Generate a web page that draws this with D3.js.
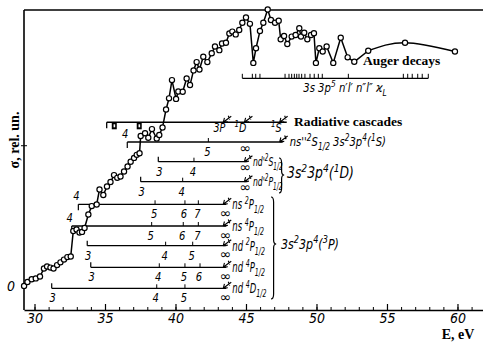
<!DOCTYPE html>
<html><head><meta charset="utf-8">
<script src="https://cdn.jsdelivr.net/npm/d3@7"></script>
<style>
body{margin:0;background:#fff}
svg{display:block}
text{fill:#000}
.it{font-family:"Liberation Sans Narrow","DejaVu Sans Condensed","Liberation Sans",sans-serif;font-style:italic}
.bf{font-family:"Liberation Serif","DejaVu Serif",serif;font-weight:bold}
.inf{font-family:"DejaVu Sans",sans-serif}
</style></head><body>
<svg id="c" width="483" height="346"></svg>
<script>
// ---- data ----
const energy = [29.26,29.50,29.80,30.09,30.39,30.67,30.89,31.13,31.35,31.60,
31.84,32.09,32.33,32.57,32.75,32.98,33.19,33.37,33.55,33.82,
34.06,34.41,34.61,34.88,35.14,35.39,35.64,35.87,36.10,36.35,
36.60,36.82,37.06,37.25,37.45,37.53,37.84,38.07,38.33,38.67,
38.85,39.08,39.33,39.54,39.75,40.04,40.20,40.51,40.79,41.03,
41.28,41.50,41.70,41.97,42.26,42.57,42.80,43.11,43.30,43.58,
43.82,44.03,44.27,44.52,44.74,45.00,45.28,45.52,45.71,45.99,
46.23,46.54,46.77,47.06,47.32,47.46,47.70,47.93,48.24,48.52,
48.78,48.90,49.13,49.35,49.61,49.82,49.96,50.20,50.44,50.72,
51.19,51.72,52.21,52.68,53.67,56.28,59.82];
const sigma = [0.4,1.8,2.8,3.1,3.8,6.7,7.4,7.0,6.7,7.9,
8.9,9.9,10.8,11.0,20.2,20.8,19.7,19.9,21.3,26.2,
29.2,29.8,35.2,33.2,36.3,37.9,40.4,39.4,39.9,41.7,
43.5,45.2,46.6,47.7,48.3,54.5,55.5,53.9,57.0,53.6,
54.9,57.6,64.1,68.1,74.7,67.9,70.6,70.5,75.3,72.9,
78.2,81.2,78.5,83.1,81.2,84.4,86.8,85.5,87.9,88.2,
91.5,92.2,91.2,92.8,95.4,97.3,95.0,80.9,86.2,92.4,
95.4,100.2,96.4,95.4,96.1,89.4,90.6,87.7,90.4,91.0,
93.4,90.4,91.8,89.4,91.0,91.6,80.9,86.2,85.0,86.8,
80.9,90.0,82.9,81.3,85.3,88.2,85.0];
const smoothTailFrom = 94; // index where the curve becomes a smooth arc

const xTickValues = [30,35,40,45,50,55,60];
const xMinorTicks = d3.range(30,62,1);
const xTitle = "E, eV";
const yTitle = "σ, rel. un.";
const yZeroLabel = "0";

const augerTitle = "Auger decays";
const augerLevels = [44.74,45.45,45.69,45.99,47.77,48.05,48.24,48.43,48.60,48.76,48.95,49.18,49.54,49.84,50.13,50.41,52.26,56.16,56.47,56.79,57.18,57.50,57.93];

const cascadeTitle = "Radiative cascades";
const cascadeStart = 35.12, cascadeEnd = 47.89;
const cascadeMarks = [35.48, 37.25];
const limitNames = [["3","P"],["1","D"],["1","S"]];
const limitEnergy = [43.6, 45.1, 47.6];

const seriesPrefix = ["ns''","nd'","nd'","ns ","ns ","nd ","nd ","nd "];
const seriesMult   = ["2","2","2","2","4","2","4","4"];
const seriesTerm   = ["S","S","P","P","P","P","P","D"];
const seriesStartN = [4,3,3,4,4,3,3,3];
const seriesStartE = [36.58,38.78,37.53,33.11,32.64,33.74,33.99,31.22];
const seriesTickN  = [[5],[4],[4],[5,6,7],[5,6,7],[4,5],[4,5,6],[4,5]];
const seriesTickE  = [[42.33],[41.31],[40.51],[38.55,40.67,41.62],[38.31,40.55,41.62],[39.30,41.22],[38.85,40.67,41.74],[38.67,40.67]];
const seriesLimit  = [2,1,1,0,0,0,0,0]; // index into limitEnergy
const seriesInfE   = [44.95,44.95,44.95,43.55,43.55,43.55,43.55,43.55];
const parentCore = [["1","S"],["1","D"],["3","P"]];

// ---- drawing ----
const svg = d3.select("#c");
const x = d3.scaleLinear().domain([29.255, 61.81]).range([24, 483]);
const y = d3.scaleLinear().domain([0, 100]).range([287, 10]);
const axisY = 310;

function rich(g, px, py, segs, cls, size, anchor, sx){
  const holder = g.append("g").attr("transform",`translate(${px},${py}) scale(${sx||1},1)`);
  const t = holder.append("text").attr("x",0).attr("y",0).attr("class",cls)
    .style("font-size",size+"px").attr("text-anchor",anchor||"start");
  let cur = 0;
  segs.forEach(([s,type])=>{
    const target = type==="sup" ? -size*0.4 : type==="sub" ? size*0.3 : 0;
    const ts = t.append("tspan").text(s).attr("dy", target-cur);
    if(type!=="n") ts.style("font-size",(size*0.74)+"px");
    cur = target;
  });
  return t;
}
function arrow(g, ax, ay){
  g.append("path")
   .attr("d",`M${ax},${ay} L${ax+8},${ay-6} M${ax},${ay} L${ax+1.2},${ay-4.5} M${ax},${ay} L${ax+4.6},${ay-0.6} M${ax+5},${ay-6.5} L${ax+6.5},${ay-2.8}`)
   .attr("fill","none").attr("stroke","#000").attr("stroke-width",1.1);
}
function brace(g, bx, y0, y1, ym){
  const w = 2.6;
  g.append("path")
   .attr("d",`M${bx},${y0} Q${bx+w},${y0} ${bx+w},${y0+5} L${bx+w},${ym-4} Q${bx+w},${ym} ${bx+2*w},${ym} Q${bx+w},${ym} ${bx+w},${ym+4} L${bx+w},${y1-5} Q${bx+w},${y1} ${bx},${y1}`)
   .attr("fill","none").attr("stroke","#000").attr("stroke-width",1.2);
}

// frame
svg.append("line").attr("x1",24).attr("x2",483).attr("y1",10).attr("y2",10).attr("stroke","#000").attr("stroke-width",1.4);
svg.append("line").attr("x1",24).attr("x2",24).attr("y1",10).attr("y2",axisY).attr("stroke","#000").attr("stroke-width",1.6);
svg.append("line").attr("x1",21).attr("x2",27).attr("y1",y(51)).attr("y2",y(51)).attr("stroke","#000").attr("stroke-width",1);

// x axis
const gMinor = svg.append("g").attr("transform",`translate(0,${axisY})`)
  .call(d3.axisBottom(x).tickValues(xMinorTicks).tickSizeInner(-3).tickSizeOuter(0).tickFormat(""));
gMinor.select(".domain").attr("stroke-width",1.6);
gMinor.selectAll(".tick line").attr("stroke-width",1);
const gMajor = svg.append("g").attr("transform",`translate(0,${axisY})`)
  .call(d3.axisBottom(x).tickValues(xTickValues).tickSizeInner(-6).tickSizeOuter(0).tickPadding(3).tickFormat(d3.format("d")));
gMajor.select(".domain").remove();
gMajor.selectAll(".tick line").attr("stroke-width",1.2);
gMajor.selectAll(".tick text").attr("class","it").style("font-size","14px").attr("fill","#000");

svg.append("text").attr("class","bf").attr("x",458).attr("y",339).attr("text-anchor","middle").style("font-size","14px").text(xTitle);
svg.append("text").attr("class","bf").attr("transform","translate(19,140) rotate(-90)").attr("text-anchor","middle").style("font-size","14px").text(yTitle);
svg.append("text").attr("class","it").attr("x",11).attr("y",291).attr("text-anchor","middle").style("font-size","14px").text(yZeroLabel);

// Auger decays
const ga = svg.append("g");
ga.append("text").attr("class","bf").attr("x",363).attr("y",65).style("font-size","13.5px").text(augerTitle);
const augY = 78.3;
ga.append("line").attr("x1",x(d3.min(augerLevels))).attr("x2",x(d3.max(augerLevels))).attr("y1",augY).attr("y2",augY).attr("stroke","#000").attr("stroke-width",1.3);
ga.selectAll("line.t").data(augerLevels).join("line").attr("class","t")
  .attr("x1",d=>x(d)).attr("x2",d=>x(d)).attr("y1",augY).attr("y2",augY-4.5).attr("stroke","#000").attr("stroke-width",1);
rich(ga, 345, 92, [["3s 3p","n"],["5","sup"],[" n′l′ n″l″ ϰ","n"],["L","sub"]], "it", 12.5, "middle", 0.9);

// Radiative cascades
const gr = svg.append("g");
const rcY = 122.3;
gr.append("line").attr("x1",x(cascadeStart)).attr("x2",x(cascadeEnd)).attr("y1",rcY).attr("y2",rcY).attr("stroke","#000").attr("stroke-width",1.4);
gr.append("line").attr("x1",x(cascadeStart)).attr("x2",x(cascadeStart)).attr("y1",rcY).attr("y2",rcY+6).attr("stroke","#000").attr("stroke-width",1.3);
cascadeMarks.forEach(e=>{
  gr.append("rect").attr("x",x(e)).attr("y",rcY).attr("width",5).attr("height",7).attr("fill","#000");
  gr.append("rect").attr("x",x(e)+1.8).attr("y",rcY+2).attr("width",1.6).attr("height",3).attr("fill","#fff");
});
limitEnergy.forEach((e,i)=>{
  arrow(gr, x(e)-3, rcY);
  rich(gr, x(e)-1, rcY+10, [[limitNames[i][0],i===0?"n":"sup"],[limitNames[i][1],"n"]], "it", 12.5, "end", 0.85);
});
gr.append("text").attr("class","bf").attr("x",294).attr("y",126).style("font-size","13.5px").text(cascadeTitle);

// Rydberg series rows
const rowY = [142,161.7,181.7,204.3,226,245.7,267.3,288.3];
const gs = svg.append("g");
seriesPrefix.forEach((p,i)=>{
  const ry = rowY[i];
  const lim = limitEnergy[seriesLimit[i]];
  const x0 = x(seriesStartE[i]), x1 = x(lim);
  gs.append("line").attr("x1",x0).attr("x2",x1).attr("y1",ry).attr("y2",ry).attr("stroke","#000").attr("stroke-width",1.3);
  if(seriesStartN[i]===4){
    gs.append("line").attr("x1",x0).attr("x2",x0).attr("y1",ry).attr("y2",ry+6).attr("stroke","#000").attr("stroke-width",1.2);
    rich(gs, x0-2, ry-4, [[String(seriesStartN[i]),"n"]], "it", 13, "middle", 0.85);
  } else {
    gs.append("line").attr("x1",x0).attr("x2",x0).attr("y1",ry).attr("y2",ry-5).attr("stroke","#000").attr("stroke-width",1.2);
    rich(gs, x0+1, ry+14, [[String(seriesStartN[i]),"n"]], "it", 13, "middle", 0.85);
  }
  seriesTickE[i].forEach((e,j)=>{
    gs.append("line").attr("x1",x(e)).attr("x2",x(e)).attr("y1",ry).attr("y2",ry-4).attr("stroke","#000").attr("stroke-width",1);
    rich(gs, x(e)-1, ry+14, [[String(seriesTickN[i][j]),"n"]], "it", 13, "middle", 0.85);
  });
  gs.append("text").attr("class","inf").attr("x",x(seriesInfE[i])).attr("y",ry+(i<3?10.5:13.5)).attr("text-anchor","middle").style("font-size","14px").text("∞");
  arrow(gs, x1-3, ry);
  const segs = [[p,"n"],[seriesMult[i],"sup"],[seriesTerm[i],"n"],["1/2","sub"]];
  if(i===0){
    segs.push([" 3s","n"],["2","sup"],["3p","n"],["4","sup"],["(","n"],[parentCore[0][0],"sup"],[parentCore[0][1]+")","n"]);
    rich(gs, x1+7, ry+4, segs, "it", 13, "start", 0.86);
  } else if(i<3){
    rich(gs, x1+5.5, ry+4, segs, "it", 13, "start", 0.66);
  } else {
    rich(gs, x1+6, ry+5, segs, "it", 13.5, "start", 0.7);
  }
});
// braces for 1D and 3P groups
brace(gs, 279, 158, 193, 175);
rich(gs, 287, 178, [["3s","n"],["2","sup"],["3p","n"],["4","sup"],["(","n"],[parentCore[1][0],"sup"],[parentCore[1][1]+")","n"]], "it", 15, "start", 0.92);
brace(gs, 271, 197, 299, 244);
rich(gs, 281, 249, [["3s","n"],["2","sup"],["3p","n"],["4","sup"],["(","n"],[parentCore[2][0],"sup"],[parentCore[2][1]+")","n"]], "it", 14, "start", 0.88);

// cross-section curve
const pts = energy.map((e,i)=>[e, sigma[i]]);
const gc = svg.append("g");
const line = d3.line().x(d=>x(d[0])).y(d=>y(d[1]));
gc.append("path").attr("d", line(pts.slice(0, smoothTailFrom+1)))
  .attr("fill","none").attr("stroke","#000").attr("stroke-width",1.5).attr("stroke-linejoin","round");
gc.append("path").attr("d", line.curve(d3.curveNatural)(pts.slice(smoothTailFrom)))
  .attr("fill","none").attr("stroke","#000").attr("stroke-width",1.5);
gc.selectAll("circle").data(pts).join("circle")
  .attr("cx",d=>x(d[0])).attr("cy",d=>y(d[1])).attr("r",2.6)
  .attr("fill","#fff").attr("stroke","#000").attr("stroke-width",1.2);
</script>
</body></html>
